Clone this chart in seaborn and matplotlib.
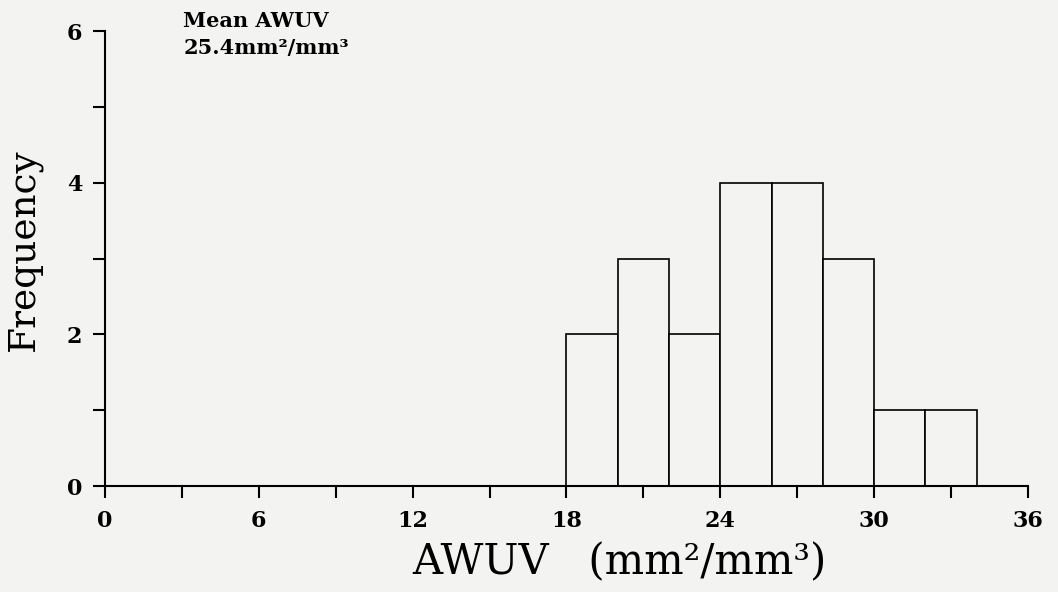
import numpy as np
import pandas as pd
import matplotlib
matplotlib.use("Agg")
import matplotlib.pyplot as plt
import seaborn as sns
from matplotlib.ticker import MultipleLocator

# Data
bin_edges = [18, 20, 22, 24, 26, 28, 30, 32, 34]
bin_centers = [19, 21, 23, 25, 27, 29, 31, 33]
counts = [2, 3, 2, 4, 4, 3, 1, 1]
x_ticks = [0, 6, 12, 18, 24, 30, 36]
y_ticks = [0, 2, 4, 6]
annotation = "Mean AWUV\n25.4mm\u00b2/mm\u00b3"

sns.set_theme(style="ticks")
plt.rcParams['font.family'] = ['DejaVu Serif']
plt.rcParams['text.color'] = 'black'
plt.rcParams['axes.labelcolor'] = 'black'
plt.rcParams['xtick.color'] = 'black'
plt.rcParams['ytick.color'] = 'black'
bg = "#f3f3f1"

fig = plt.figure(figsize=(10.58, 5.92), dpi=100, facecolor=bg)
ax = fig.add_axes([0.0992, 0.179, 0.8724, 0.7686])
ax.set_facecolor(bg)

df = pd.DataFrame({"AWUV": bin_centers, "count": counts})
sns.histplot(data=df, x="AWUV", weights="count", bins=bin_edges, ax=ax,
             color=bg, edgecolor="black", linewidth=1.2, alpha=1)

ax.set_xlim(0, 36)
ax.set_ylim(0, 6)
ax.set_xticks(x_ticks)
ax.set_yticks(y_ticks)
ax.xaxis.set_minor_locator(MultipleLocator(3))
ax.yaxis.set_minor_locator(MultipleLocator(1))
ax.tick_params(axis="both", which="both", direction="out", width=1.5, length=8.5)
ax.tick_params(axis="x", which="major", labelsize=16, pad=9)
ax.tick_params(axis="y", which="major", labelsize=16, pad=8)
for lab in ax.get_xticklabels() + ax.get_yticklabels():
    lab.set_fontweight("bold")
for side in ("top", "right"):
    ax.spines[side].set_visible(False)
for side in ("left", "bottom"):
    ax.spines[side].set_linewidth(1.5)
    ax.spines[side].set_color("black")

ax.set_xlabel("AWUV   (mm\u00b2/mm\u00b3)", fontsize=30)
ax.xaxis.set_label_coords(0.557, -0.122)
ax.set_ylabel("Frequency", fontsize=27)
ax.yaxis.set_label_coords(-0.068, 0.52)

ax.text(0.085, 1.045, annotation, transform=ax.transAxes, fontsize=15,
        fontweight="bold", va="top", ha="left", linespacing=1.45)

fig.savefig("out.png", dpi=100, facecolor=bg)
